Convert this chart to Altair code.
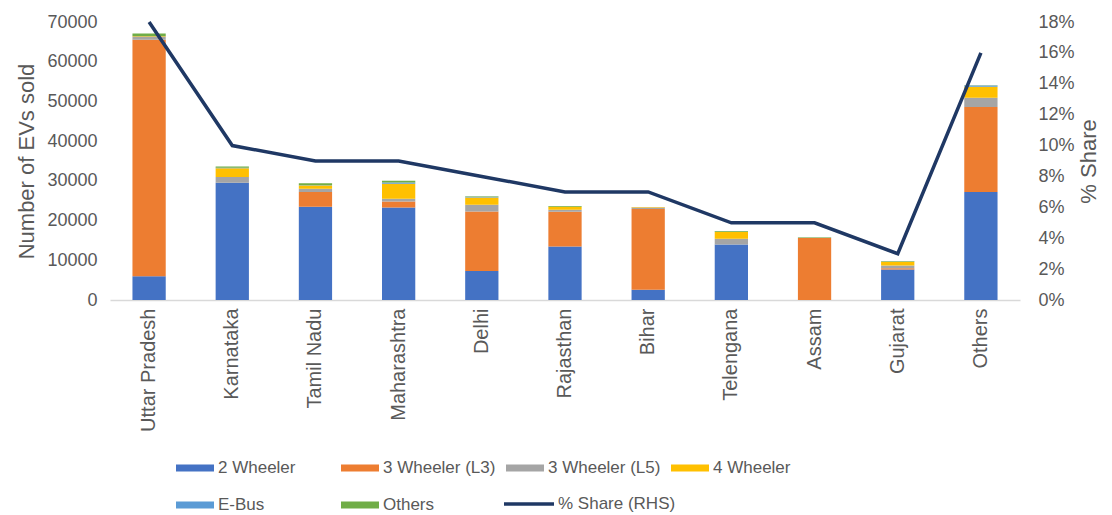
import altair as alt
import pandas as pd

states = ["Uttar Pradesh", "Karnataka", "Tamil Nadu", "Maharashtra", "Delhi",
          "Rajasthan", "Bihar", "Telengana", "Assam", "Gujarat", "Others"]
series = ["2 Wheeler", "3 Wheeler (L3)", "3 Wheeler (L5)", "4 Wheeler", "E-Bus", "Others"]
colors = ["#4472C4", "#ED7D31", "#A5A5A5", "#FFC000", "#5B9BD5", "#70AD47"]

two_w = [6000, 29500, 23500, 23300, 7300, 13500, 2600, 14000, 0, 7700, 27200]
l3 = [59500, 0, 3700, 1500, 15000, 8700, 20300, 0, 15600, 300, 21400]
l5 = [700, 1500, 800, 700, 1700, 500, 400, 1400, 100, 700, 2300]
four_w = [200, 2200, 800, 3800, 1800, 800, 100, 1700, 0, 900, 2800]
ebus = [100, 100, 100, 300, 200, 0, 0, 100, 0, 100, 300]
others_v = [600, 300, 500, 400, 100, 200, 0, 200, 100, 100, 100]
share = [0.18, 0.10, 0.09, 0.09, 0.08, 0.07, 0.07, 0.05, 0.05, 0.03, 0.16]

rows = []
for si, (name, vals) in enumerate(zip(series, [two_w, l3, l5, four_w, ebus, others_v])):
    for st, v in zip(states, vals):
        rows.append({"state": st, "series": name, "value": v, "idx": si})
bars_df = pd.DataFrame(rows)
line_df = pd.DataFrame({"state": states, "share": share, "lname": ["% Share (RHS)"] * len(states)})

FONT = "Liberation Sans"
GREY = "#595959"

xenc = alt.X("state:N", sort=states,
             scale=alt.Scale(paddingInner=0.6, paddingOuter=0.27),
             axis=alt.Axis(title=None, labelAngle=270, labelAlign="right", labelBaseline="middle",
                           labelFontSize=20, labelColor=GREY, labelFont=FONT, labelPadding=8,
                           ticks=False, domainColor="#D9D9D9", domainWidth=1.5))

bars = alt.Chart(bars_df).mark_bar().encode(
    x=xenc,
    y=alt.Y("value:Q", stack="zero",
            scale=alt.Scale(domain=[0, 70000], nice=False),
            axis=alt.Axis(title="Number of EVs sold", values=list(range(0, 70001, 10000)),
                          format="d",
                          grid=False, domain=False, ticks=False, labelFontSize=18,
                          labelColor=GREY, labelFont=FONT, labelPadding=13,
                          titleFontSize=22, titleFont=FONT, titleColor=GREY,
                          titleFontWeight="normal", titlePadding=8)),
    fill=alt.Fill("series:N", scale=alt.Scale(domain=series, range=colors),
                  legend=alt.Legend(title=None, orient="none", legendX=66, legendY=427,
                                    columns=4, gridAlign="all", columnPadding=10, rowPadding=10,
                                    symbolType="M-1,-0.18H1V0.18H-1Z", symbolSize=1444,
                                    symbolStrokeWidth=0, labelFontSize=17, labelColor=GREY,
                                    labelFont=FONT, labelOffset=4, direction="horizontal")),
    order=alt.Order("idx:Q", sort="ascending"),
)

line = alt.Chart(line_df).mark_line(strokeWidth=3.5).encode(
    x=alt.X("state:N", sort=states),
    y=alt.Y("share:Q", scale=alt.Scale(domain=[0, 0.18], nice=False),
            axis=alt.Axis(title="% Share", orient="right", format=".0%",
                          values=[i / 100 for i in range(0, 19, 2)],
                          grid=False, domain=False, ticks=False, labelFontSize=18,
                          labelColor=GREY, labelFont=FONT, labelPadding=18,
                          titleFontSize=22, titleFont=FONT, titleColor=GREY, titleAngle=270,
                          titleFontWeight="normal", titlePadding=26)),
    stroke=alt.Stroke("lname:N", scale=alt.Scale(range=["#1F3864"]),
                      legend=alt.Legend(title=None, orient="none", legendX=392, legendY=455,
                                        symbolType="stroke", symbolSize=2500,
                                        symbolStrokeWidth=3.5, labelFontSize=17,
                                        labelColor=GREY, labelFont=FONT, labelOffset=2)),
)

chart = alt.layer(bars, line).resolve_scale(y="independent").properties(
    width=910, height=278,
    padding={"left": 110, "top": 22, "right": 82, "bottom": 215},
    autosize=alt.AutoSizeParams(type="none"),
    background="white",
).configure_view(stroke=None)

chart.save("out.html", embed_options={"renderer": "svg", "actions": False})
